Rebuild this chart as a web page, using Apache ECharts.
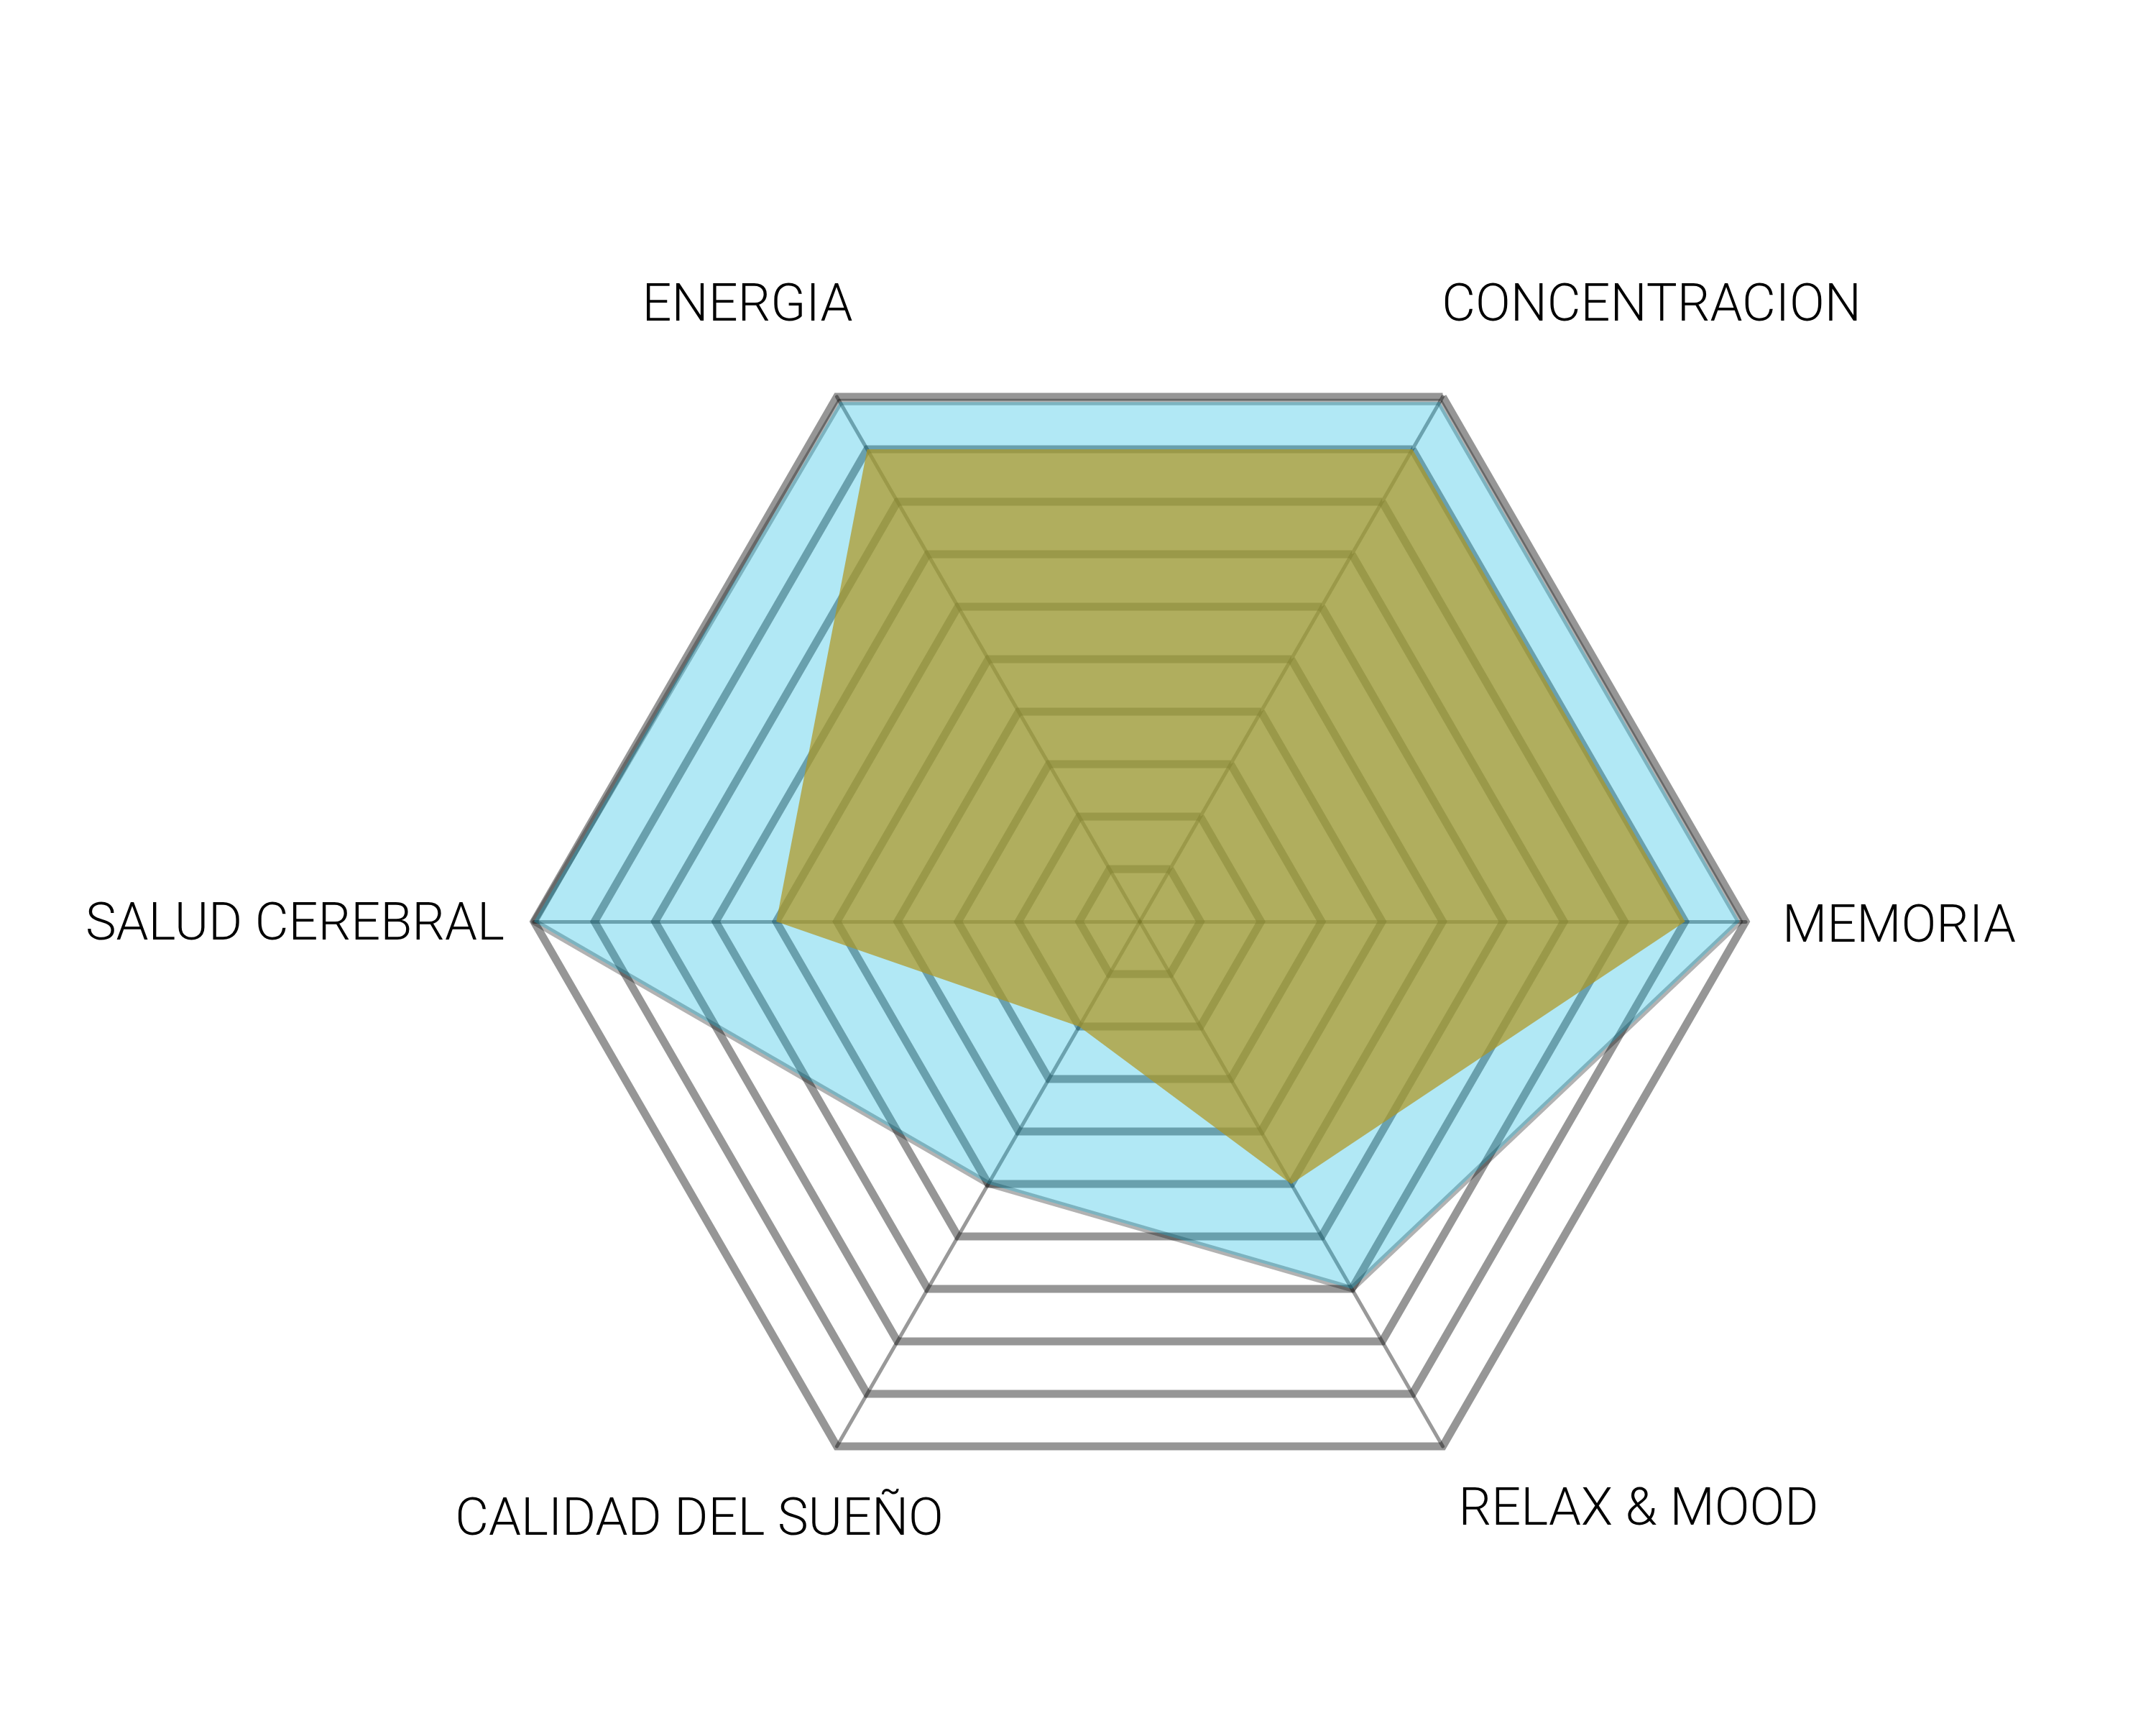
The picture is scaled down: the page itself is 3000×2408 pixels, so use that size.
<!DOCTYPE html>
<html>
<head>
<meta charset="utf-8">
<title>Radar</title>
<script src="https://cdn.jsdelivr.net/npm/echarts@6/dist/echarts.min.js"></script>
<style>
  html, body { margin: 0; padding: 0; background: #fff; }
  #chart { width: 3000px; height: 2408px; }
</style>
</head>
<body>
<div id="chart"></div>
<script>
// indicators, counter-clockwise starting at 60 degrees
var indicators = ['CONCENTRACION', 'ENERGIA', 'SALUD CEREBRAL', 'CALIDAD DEL SUEÑO', 'RELAX & MOOD', 'MEMORIA'];
var maxValue = 10;
var blueValues = [9.9, 9.9, 10, 5, 7, 9.9];
var oliveValues = [9, 9, 6, 2, 5, 9];

var labelFont = 'Roboto';
var labelSize = 72;

function label(text, x, y, align) {
  return {
    type: 'text',
    x: x,
    y: y,
    silent: true,
    style: {
      text: text,
      fontSize: labelSize,
      fontWeight: 300,
      fontFamily: labelFont,
      fill: '#000',
      align: align,
      textAlign: align,
      verticalAlign: 'middle',
      textVerticalAlign: 'middle'
    }
  };
}

var myChart = echarts.init(document.getElementById('chart'));

var option = {
  backgroundColor: '#fff',
  animation: false,
  radar: {
    center: [1586, 1282],
    radius: 843,
    startAngle: 60,
    splitNumber: 10,
    shape: 'polygon',
    indicator: indicators.map(function (n) { return { name: n, min: 0, max: maxValue }; }),
    axisName: { show: false },
    splitArea: { show: false },
    splitLine: {
      lineStyle: { color: 'rgba(0,0,0,0.41)', width: 11 }
    },
    axisLine: {
      lineStyle: { color: 'rgba(0,0,0,0.4)', width: 5 }
    }
  },
  graphic: [
    label(indicators[1], 1040, 428, 'center'),
    label(indicators[0], 2298, 428, 'center'),
    label(indicators[5], 2480, 1292, 'left'),
    label(indicators[2], 702, 1289, 'right'),
    label(indicators[3], 973, 2117, 'center'),
    label(indicators[4], 2280, 2103, 'center')
  ],
  series: [
    {
      type: 'radar',
      symbol: 'none',
      lineStyle: { color: 'rgba(0,0,0,0.3)', width: 9 },
      areaStyle: { color: 'rgba(11,184,224,0.32)', opacity: 1 },
      data: [{ value: blueValues, name: 'blue' }]
    },
    {
      type: 'radar',
      symbol: 'none',
      lineStyle: { width: 0, opacity: 0 },
      areaStyle: { color: 'rgba(175,150,30,0.7)', opacity: 1 },
      data: [{ value: oliveValues, name: 'olive' }]
    }
  ]
};

myChart.setOption(option);
</script>
</body>
</html>
